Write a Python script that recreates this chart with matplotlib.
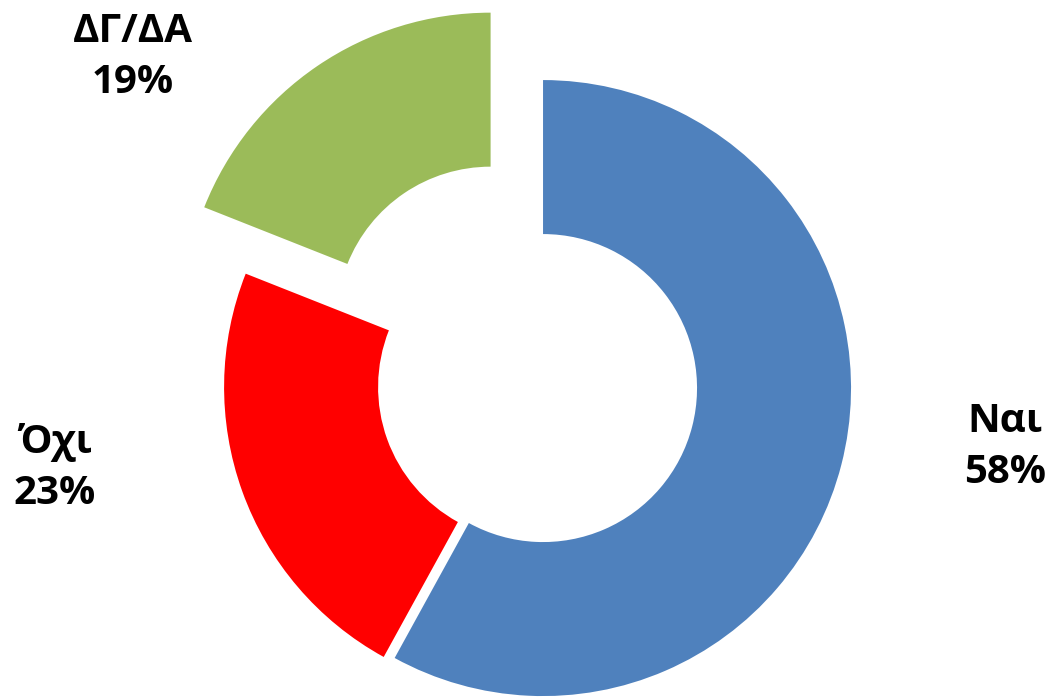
import matplotlib
matplotlib.use("Agg")
import matplotlib.pyplot as plt

labels = ["Ναι", "Όχι", "ΔΓ/ΔΑ"]
shares = [58, 23, 19]
colors = ["#4F81BD", "#FF0000", "#9BBB59"]

# canvas in pixel units (y up), slice offsets in the same units
W, H = 1051, 697
center = (535, H - 386)
radius, ring = 308, 154
explode = [8.3, 3.1, 79]

plt.rcParams["font.family"] = ["Open Sans", "DejaVu Sans"]

fig = plt.figure(figsize=(W / 100, H / 100), dpi=100)
ax = fig.add_axes([0, 0, 1, 1])
ax.pie(shares, colors=colors, explode=explode, center=center, radius=radius,
       startangle=90, counterclock=False,
       wedgeprops=dict(width=ring, linewidth=0))
ax.set_xlim(0, W); ax.set_ylim(0, H)
ax.set_aspect("equal")
ax.axis("off")

# label positions (pixel coords, top-left origin)
label_xy = [(1005, 447), (55, 468), (133, 57)]
for lab, v, (lx, ly) in zip(labels, shares, label_xy):
    ax.text(lx, H - ly, f"{lab}\n{v}%", ha="center", va="center",
            fontsize=29, fontweight="bold", linespacing=1.42)

fig.savefig("out.png", dpi=100)
